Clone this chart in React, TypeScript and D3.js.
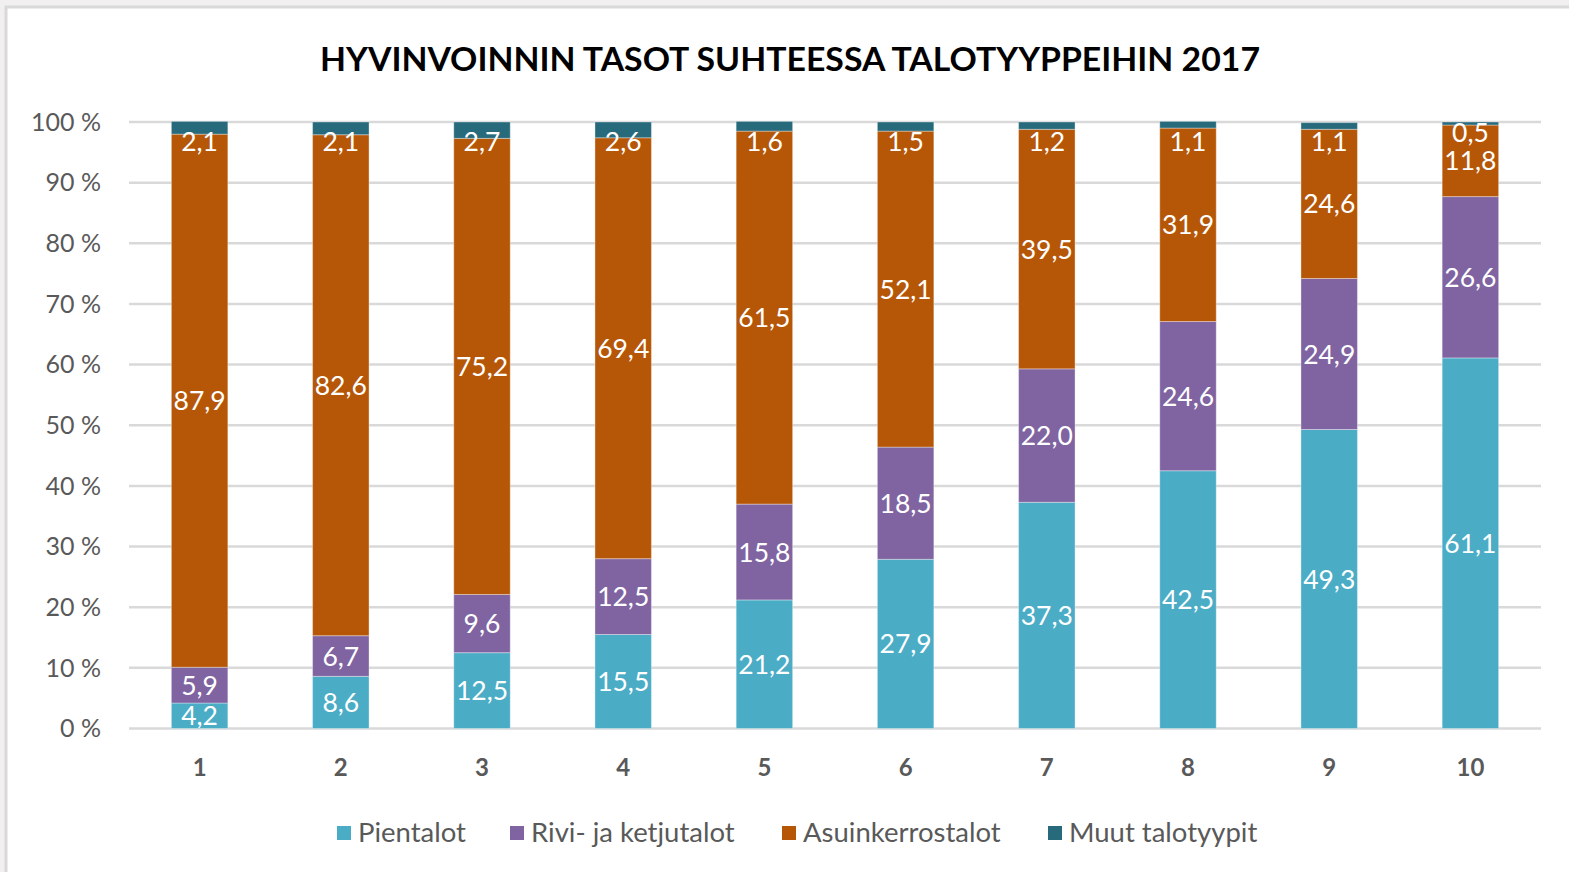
import * as d3 from "d3";

const categories = ["1", "2", "3", "4", "5", "6", "7", "8", "9", "10"];
const seriesNames = ["Pientalot", "Rivi- ja ketjutalot", "Asuinkerrostalot", "Muut talotyypit"];
const pientalot = [4.2, 8.6, 12.5, 15.5, 21.2, 27.9, 37.3, 42.5, 49.3, 61.1];
const rivitalot = [5.9, 6.7, 9.6, 12.5, 15.8, 18.5, 22.0, 24.6, 24.9, 26.6];
const kerrostalot = [87.9, 82.6, 75.2, 69.4, 61.5, 52.1, 39.5, 31.9, 24.6, 11.8];
const muut = [2.1, 2.1, 2.7, 2.6, 1.6, 1.5, 1.2, 1.1, 1.1, 0.5];
const yTicks = [0, 10, 20, 30, 40, 50, 60, 70, 80, 90, 100];

const colors = ["#4bacc6", "#8064a2", "#b65708", "#276a7c"];
const font = "Lato, 'Open Sans', sans-serif";

export default function App() {
  const width = 1569;
  const height = 872;
  const x = d3.scaleBand<string>().domain(categories).range([129, 1541]).paddingInner(0.6).paddingOuter(0.3);
  const y = d3.scaleLinear().domain([0, 100]).range([728.5, 122]);

  const rows = categories.map((c, i) => ({
    cat: c,
    s0: pientalot[i],
    s1: rivitalot[i],
    s2: kerrostalot[i],
    s3: muut[i],
  }));
  const stack = d3.stack<(typeof rows)[number]>().keys(["s0", "s1", "s2", "s3"]);
  const layers = stack(rows);

  const fmt = (v: number) => v.toFixed(1).replace(".", ",");

  // legend positions
  const legendX = [337, 510, 782, 1048];

  return (
    <svg width={width} height={height} style={{ position: "absolute", left: 0, top: 0 }} fontFamily={font}>
      <rect x={0} y={0} width={width} height={height} fill="#f1efef" />
      <rect x={6} y={7} width={width} height={height} fill="#ffffff" stroke="#d9d9d9" strokeWidth={3} />
      <defs>
        <clipPath id="plotClip">
          <rect x={0} y={0} width={width} height={728} />
        </clipPath>
      </defs>

      <text x={790} y={71} textAnchor="middle" fontSize={32} fontWeight="bold" fill="#000" textLength={940} lengthAdjust="spacingAndGlyphs">
        HYVINVOINNIN TASOT SUHTEESSA TALOTYYPPEIHIN 2017
      </text>

      {yTicks.map((t) => (
        <g key={t}>
          <line x1={129} x2={1541} y1={y(t)} y2={y(t)} stroke="#d9d9d9" strokeWidth={2.5} />
          <text x={101} y={y(t)} dy="0.35em" textAnchor="end" fontSize={25} fill="#595959">
            {t} %
          </text>
        </g>
      ))}

      {layers.map((layer, li) => (
        <g key={layer.key} fill={colors[li]}>
          {layer.map((d) => (
            <rect
              key={d.data.cat}
              x={x(d.data.cat)}
              y={y(d[1])}
              width={x.bandwidth()}
              height={y(d[0]) - y(d[1])}
              stroke="#ffffff"
              strokeOpacity={0.35}
              strokeWidth={1}
            />
          ))}
        </g>
      ))}

      <g clipPath="url(#plotClip)" fill="#ffffff" fontSize={26.5} textAnchor="middle">
        {layers.map((layer, li) =>
          layer.map((d, i) => {
            const cx = (x(d.data.cat) ?? 0) + x.bandwidth() / 2;
            let cy = (y(d[0]) + y(d[1])) / 2;
            if (li === 3) {
              const below = layers[2][i];
              const belowCenter = (y(below[0]) + y(below[1])) / 2;
              cy = Math.min(y(100) + 19, belowCenter - 28);
            }
            const v = d[1] - d[0];
            return (
              <text key={`${layer.key}-${d.data.cat}`} x={cx} y={cy} dy="0.36em">
                {fmt(v)}
              </text>
            );
          })
        )}
      </g>

      {categories.map((c) => (
        <text key={c} x={(x(c) ?? 0) + x.bandwidth() / 2} y={776} textAnchor="middle" fontSize={24} fontWeight="bold" fill="#595959">
          {c}
        </text>
      ))}

      {seriesNames.map((name, i) => (
        <g key={name} transform={`translate(${legendX[i]},826)`}>
          <rect x={0} y={0} width={14} height={14} fill={colors[i]} />
          <text x={21} y={16} fontSize={27.5} fill="#595959">
            {name}
          </text>
        </g>
      ))}
    </svg>
  );
}
